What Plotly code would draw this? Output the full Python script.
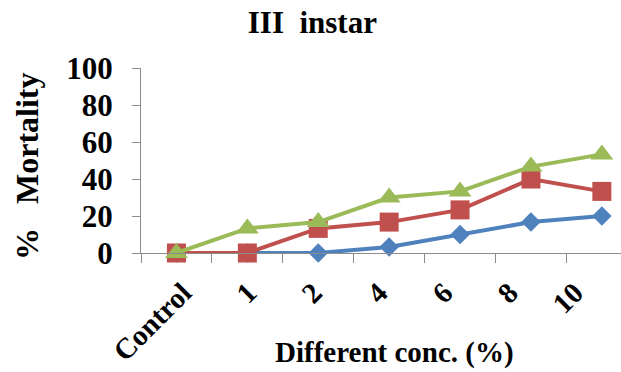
import plotly.graph_objects as go

categories = ["Control", "1", "2", "4", "6", "8", "10"]
series_a = [0, 0, 0, 3.3, 10, 16.7, 20]
series_b = [0, 0, 13.3, 16.7, 23.3, 40, 33.3]
series_c = [0, 13.3, 16.7, 30, 33.3, 46.7, 53.3]
y_ticks = [0, 20, 40, 60, 80, 100]

FONT = "Liberation Serif"
W, H = 621, 372
L, R, T, B = 141, 0, 68, 119

fig = go.Figure()
styles = [
    (series_a, "#4F81BD", "diamond", 15),
    (series_b, "#C0504D", "square", 19),
    (series_c, "#9BBB59", "triangle-up", 20),
]
for vals, col, sym, sz in styles:
    fig.add_trace(go.Scatter(
        x=categories, y=vals, mode="lines+markers",
        line=dict(color=col, width=4),
        marker=dict(color=col, symbol=sym, size=sz, line=dict(width=0)),
        cliponaxis=False, showlegend=False,
    ))

# label-only axis carrying the category tick labels
fig.add_trace(go.Scatter(
    x=categories, y=series_a, xaxis="x2", mode="none",
    hoverinfo="skip", showlegend=False,
))

fig.update_layout(
    width=W, height=H,
    margin=dict(l=L, r=R, t=T, b=B),
    plot_bgcolor="white", paper_bgcolor="white",
    font=dict(family=FONT, color="black", size=28, weight="bold"),
    title=dict(text="III  instar", x=0.503, xref="container", y=0.94,
               yref="container", yanchor="middle", xanchor="center",
               font=dict(family=FONT, size=31, weight="bold", color="black")),
    xaxis=dict(
        type="category", range=[-0.5, 6.27],
        showline=True, linecolor="#8c8c8c", linewidth=1,
        ticks="outside", tickson="boundaries", ticklen=9, tickcolor="#8c8c8c",
        showticklabels=False, showgrid=False, zeroline=False,
    ),
    xaxis2=dict(
        type="category", range=[-0.643, 6.707], overlaying="x", anchor="y",
        side="bottom", showline=False, ticks="", showgrid=False, zeroline=False,
        tickangle=-45,
        tickfont=dict(family=FONT, size=29, weight="bold", color="black"),
        ticklabelstandoff=16,
    ),
    yaxis=dict(
        range=[0, 100], tickvals=y_ticks,
        showline=True, linecolor="#8c8c8c", linewidth=1,
        ticks="outside", ticklen=8, tickcolor="#8c8c8c",
        showgrid=False, zeroline=False,
        tickfont=dict(family=FONT, size=31, weight="bold", color="black"),
        ticklabelstandoff=13,
    ),
    annotations=[
        dict(text="Different conc. (%)", xref="paper", yref="paper",
             x=(394 - L) / (W - L - R), y=-(352 - (H - B)) / (H - T - B),
             xanchor="center", yanchor="middle", showarrow=False,
             font=dict(family=FONT, size=29, weight="bold", color="black")),
        dict(text="%   Mortality", xref="paper", yref="paper",
             x=-(L - 27) / (W - L - R), y=1 - (166 - T) / (H - T - B),
             xanchor="center", yanchor="middle", showarrow=False, textangle=-90,
             font=dict(family=FONT, size=32, weight="bold", color="black")),
    ],
)

fig.write_html("out.html")
